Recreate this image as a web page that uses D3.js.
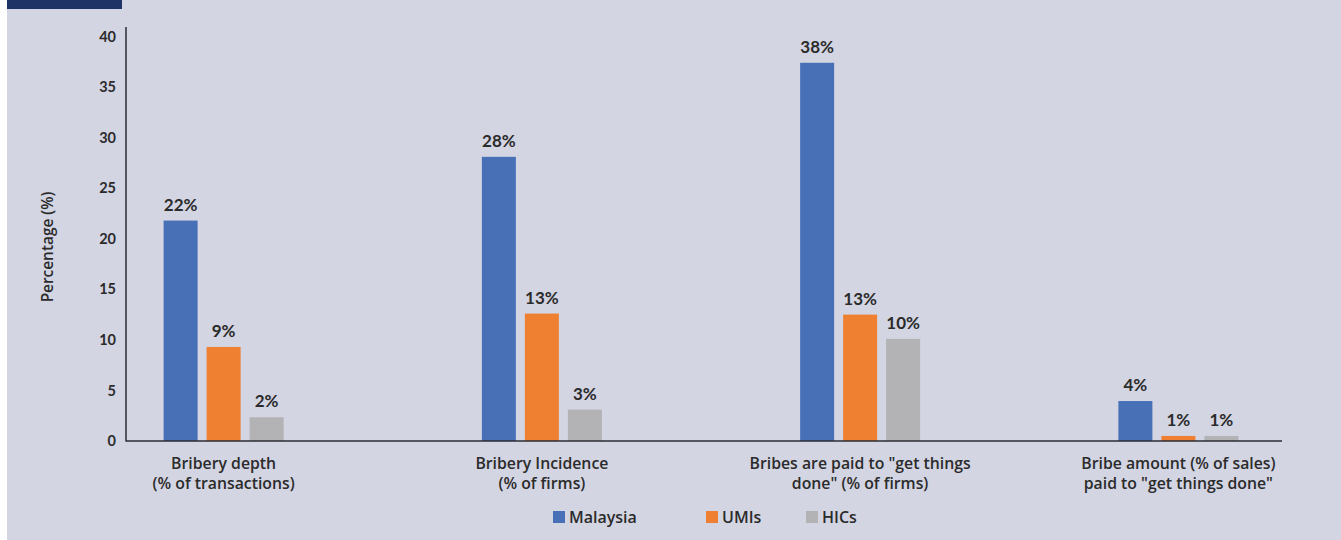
<!DOCTYPE html>
<html>
<head>
<meta charset="utf-8">
<script src="https://cdn.jsdelivr.net/npm/d3@7"></script>
<style>
  html, body { margin: 0; padding: 0; background: #ffffff; }
  svg { display: block; }
  text { font-family: "Open Sans", Lato, sans-serif; }
</style>
</head>
<body>
<svg id="chart" width="1341" height="540"></svg>
<script>
// ---- data ----
const categories = [
  ["Bribery depth", "(% of transactions)"],
  ["Bribery Incidence", "(% of firms)"],
  ["Bribes are paid to \"get things", "done\" (% of firms)"],
  ["Bribe amount (% of sales)", "paid to \"get things done\""]
];
const seriesNames = ["Malaysia", "UMIs", "HICs"];
const malaysia = [21.8, 28.1, 37.4, 3.95];
const umis = [9.3, 12.6, 12.5, 0.5];
const hics = [2.35, 3.1, 10.1, 0.5];
const malaysiaLabels = ["22%", "28%", "38%", "4%"];
const umisLabels = ["9%", "13%", "13%", "1%"];
const hicsLabels = ["2%", "3%", "10%", "1%"];
const yTicks = [0, 5, 10, 15, 20, 25, 30, 35, 40];

const colors = ["#4770b7", "#ef7f31", "#b3b3b5"];
const series = [
  { name: seriesNames[0], values: malaysia, labels: malaysiaLabels },
  { name: seriesNames[1], values: umis, labels: umisLabels },
  { name: seriesNames[2], values: hics, labels: hicsLabels }
];

const svg = d3.select("#chart");
const W = 1341, H = 540;

svg.append("rect").attr("x", 7).attr("y", 0).attr("width", W - 7).attr("height", H).attr("fill", "#d3d5e3");
svg.append("rect").attr("x", 7).attr("y", 0).attr("width", 115).attr("height", 9).attr("fill", "#1f3466");

const x0 = 126, x1 = 1282, yTop = 27, yZero = 441;

const x = d3.scalePoint().domain(d3.range(categories.length)).range([124, 1278]).padding(0.313);
const y = d3.scaleLinear().domain([0, 40]).range([yZero, 36.5]);

const barW = 34, barStep = 43;

// y axis
const yAxis = d3.axisLeft(y).tickValues(yTicks).tickSize(0).tickPadding(10);
const gy = svg.append("g").attr("transform", `translate(${x0},0)`).call(yAxis);
gy.select(".domain").remove();
gy.selectAll("text")
  .attr("font-size", 14.5).attr("font-weight", "bold").attr("fill", "#2b2b2b")
  .style("font-family", "Lato, sans-serif");
svg.append("line").attr("x1", x0).attr("x2", x0).attr("y1", yTop).attr("y2", yZero + 0.5)
  .attr("stroke", "#2b2b33").attr("stroke-width", 1.5);

// bars
series.forEach((s, si) => {
  const off = (si - 1) * barStep;
  svg.append("g").selectAll("rect").data(s.values).join("rect")
    .attr("x", (d, i) => x(i) + off - barW / 2)
    .attr("y", d => y(d))
    .attr("width", barW)
    .attr("height", d => yZero - y(d))
    .attr("fill", colors[si]);
  svg.append("g").selectAll("text").data(s.values).join("text")
    .attr("x", (d, i) => x(i) + off)
    .attr("y", d => y(d) - 10)
    .attr("text-anchor", "middle")
    .attr("font-size", 17).attr("font-weight", "bold").attr("fill", "#2b2b2b")
    .style("font-family", "Lato, sans-serif")
    .text((d, i) => s.labels[i]);
});

// x axis line
svg.append("line").attr("x1", x0).attr("x2", x1).attr("y1", yZero).attr("y2", yZero)
  .attr("stroke", "#2b2b33").attr("stroke-width", 1.5);

// category labels
categories.forEach((c, i) => {
  const t = svg.append("text").attr("text-anchor", "middle")
    .attr("font-size", 15.8).attr("font-weight", 600).attr("fill", "#2b2b2b");
  c.forEach((line, li) => {
    t.append("tspan").attr("x", x(i)).attr("y", 468.5 + li * 20).text(line);
  });
});

// y title
svg.append("text")
  .attr("transform", "translate(53,247) rotate(-90)")
  .attr("text-anchor", "middle")
  .attr("font-size", 15.4).attr("font-weight", 600).attr("fill", "#2b2b2b")
  .text("Percentage (%)");

// legend
const legendX = [553, 706, 806];
const lg = svg.append("g").selectAll("g").data(series).join("g")
  .attr("transform", (d, i) => `translate(${legendX[i]},511)`);
lg.append("rect").attr("width", 12).attr("height", 12).attr("fill", (d, i) => colors[i]);
lg.append("text").attr("x", 16).attr("y", 11.5)
  .attr("font-size", 16).attr("font-weight", 600).attr("fill", "#2b2b2b")
  .text(d => d.name);
</script>
</body>
</html>
